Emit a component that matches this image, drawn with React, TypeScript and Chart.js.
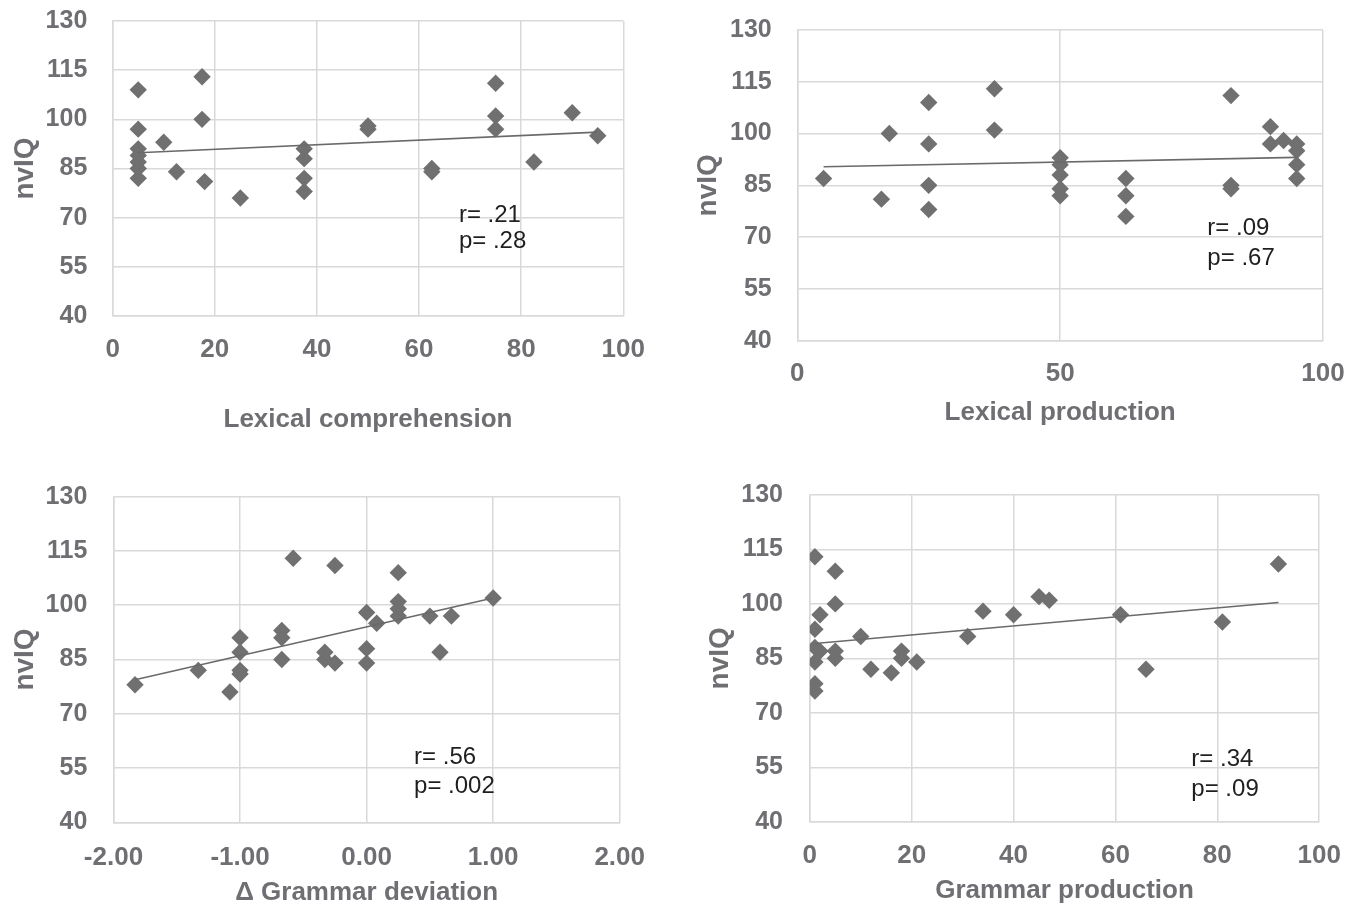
import React, { useEffect, useRef } from 'react';
import { Chart, registerables } from 'chart.js';

Chart.register(...registerables);

// ---------- Data ----------
// nvIQ axis
const nvIQMin = 40;
const nvIQMax = 130;
const nvIQStep = 15;

// Panel 1 – Lexical comprehension
const lexCompX = [5, 5, 5, 5, 5, 5, 5, 10, 12.5, 17.5, 17.5, 18, 25, 37.5, 37.5, 37.5, 37.5, 50, 50, 62.5, 62.5, 75, 75, 75, 82.5, 90, 95];
const lexCompIQ = [109, 97, 91, 89, 87, 85, 82, 93, 84, 113, 100, 81, 76, 91, 88, 82, 78, 98, 97, 85, 84, 111, 101, 97, 87, 102, 95];
const lexCompTrendX = [5, 95];
const lexCompTrendY = [89.8, 96.1];
const lexCompStats = ['r= .21', 'p= .28'];
const lexCompStatsX = [67.8, 67.8];
const lexCompStatsY = [70.8, 62.9];

// Panel 2 – Lexical production
const lexProdX = [5, 16, 17.5, 25, 25, 25, 25, 37.5, 37.5, 50, 50, 50, 50, 50, 62.5, 62.5, 62.5, 82.5, 82.5, 82.5, 90, 90, 92.5, 95, 95, 95, 95];
const lexProdIQ = [87, 81, 100, 109, 97, 85, 78, 113, 101, 93, 91, 88, 84, 82, 87, 82, 76, 111, 85, 84, 102, 97, 98, 97, 95, 91, 87];
const lexProdTrendX = [5, 95];
const lexProdTrendY = [90.4, 93.1];
const lexProdStats = ['r= .09', 'p= .67'];
const lexProdStatsX = [78.0, 78.0];
const lexProdStatsY = [72.4, 63.9];

// Panel 3 – Δ Grammar deviation
const gramDevX = [-1.83, -1.33, -1.08, -1, -1, -1, -1, -0.67, -0.67, -0.67, -0.58, -0.33, -0.33, -0.25, -0.25, 0, 0, 0, 0.08, 0.25, 0.25, 0.25, 0.25, 0.5, 0.58, 0.67, 1];
const gramDevIQ = [78, 82, 76, 91, 87, 82, 81, 93, 91, 85, 113, 87, 85, 84, 111, 98, 88, 84, 95, 109, 101, 99, 97, 97, 87, 97, 102];
const gramDevTrendX = [-1.83, 1];
const gramDevTrendY = [79.4, 102];
const gramDevStats = ['r= .56', 'p= .002'];
const gramDevStatsX = [0.375, 0.375];
const gramDevStatsY = [57.9, 50.0];

// Panel 4 – Grammar production
const gramProdX = [1, 1, 1, 2, 2, 1, 1, 1, 5, 5, 5, 5, 10, 12, 16, 18, 18, 21, 31, 34, 40, 45, 47, 61, 66, 81, 92];
const gramProdIQ = [113, 93, 88, 97, 87, 84, 78, 76, 109, 100, 87, 85, 91, 82, 81, 87, 85, 84, 91, 98, 97, 102, 101, 97, 82, 95, 111];
const gramProdTrendX = [1, 92];
const gramProdTrendY = [89.1, 100.4];
const gramProdStats = ['r= .34', 'p= .09'];
const gramProdStatsX = [74.9, 74.9];
const gramProdStatsY = [57.1, 49.0];

// ---------- Styling ----------
const FONT = "'Liberation Sans', Arial, Helvetica, sans-serif";
const TEXT_GRAY = '#6f6f73';
const GRID = '#d9d9d9';
const MARK = '#707070';
const TREND = '#6a6a6a';
const STAT_TEXT = '#1f1f1f';
const Y_TICK_SIZE = 25;
const X_TICK_SIZE = 26;
const X_TITLE_SIZE = 26;
const Y_TITLE_SIZE = 28;
const STAT_SIZE = 24;

type Pt = { x: number; y: number };
const zip = (xs: number[], ys: number[]): Pt[] => xs.map((x, i) => ({ x, y: ys[i] }));

type Panel = {
  left: number; top: number; w: number; h: number;
  area: { l: number; t: number; r: number; b: number };
  yTickRight: number; yTitleCenter: number;
  xTickCenter: number; xTitleCenter: number;
  xMin: number; xMax: number; xStep: number; decimals: number;
  xTitle: string;
  xs: number[]; ys: number[];
  tx: number[]; ty: number[];
  stats: string[]; sx: number[]; sy: number[];
};

const panels: Panel[] = [
  {
    left: 0, top: 0, w: 675, h: 455,
    area: { l: 112.7, t: 21, r: 623.3, b: 316 },
    yTickRight: 87.3, yTitleCenter: 25, xTickCenter: 349.7, xTitleCenter: 419.5,
    xMin: 0, xMax: 100, xStep: 20, decimals: 0,
    xTitle: 'Lexical comprehension',
    xs: lexCompX, ys: lexCompIQ, tx: lexCompTrendX, ty: lexCompTrendY,
    stats: lexCompStats, sx: lexCompStatsX, sy: lexCompStatsY,
  },
  {
    left: 675, top: 0, w: 676, h: 455,
    area: { l: 122.3, t: 30, r: 648, b: 340.7 },
    yTickRight: 96.7, yTitleCenter: 33.3, xTickCenter: 374.2, xTitleCenter: 412.5,
    xMin: 0, xMax: 100, xStep: 50, decimals: 0,
    xTitle: 'Lexical production',
    xs: lexProdX, ys: lexProdIQ, tx: lexProdTrendX, ty: lexProdTrendY,
    stats: lexProdStats, sx: lexProdStatsX, sy: lexProdStatsY,
  },
  {
    left: 0, top: 455, w: 675, h: 454,
    area: { l: 113.5, t: 41.7, r: 619.7, b: 367.3 },
    yTickRight: 87.3, yTitleCenter: 25, xTickCenter: 403.3, xTitleCenter: 437.5,
    xMin: -2, xMax: 2, xStep: 1, decimals: 2,
    xTitle: 'Δ Grammar deviation',
    xs: gramDevX, ys: gramDevIQ, tx: gramDevTrendX, ty: gramDevTrendY,
    stats: gramDevStats, sx: gramDevStatsX, sy: gramDevStatsY,
  },
  {
    left: 675, top: 455, w: 676, h: 454,
    area: { l: 134.8, t: 40, r: 644.2, b: 366.7 },
    yTickRight: 108, yTitleCenter: 45, xTickCenter: 401.2, xTitleCenter: 436,
    xMin: 0, xMax: 100, xStep: 20, decimals: 0,
    xTitle: 'Grammar production',
    xs: gramProdX, ys: gramProdIQ, tx: gramProdTrendX, ty: gramProdTrendY,
    stats: gramProdStats, sx: gramProdStatsX, sy: gramProdStatsY,
  },
];

function statsPlugin(lines: string[], xs: number[], ys: number[]) {
  return {
    id: 'statsText',
    afterDatasetsDraw(chart: any) {
      const { ctx, scales } = chart;
      ctx.save();
      ctx.font = `${STAT_SIZE}px ${FONT}`;
      ctx.fillStyle = STAT_TEXT;
      ctx.textAlign = 'left';
      ctx.textBaseline = 'middle';
      lines.forEach((t, i) => {
        ctx.fillText(t, scales.x.getPixelForValue(xs[i]), scales.y.getPixelForValue(ys[i]));
      });
      ctx.restore();
    },
  };
}

function ScatterPanel({ p }: { p: Panel }) {
  const ref = useRef<HTMLCanvasElement | null>(null);
  useEffect(() => {
    if (!ref.current) return;
    const { area } = p;
    const xTickLH = X_TICK_SIZE * 1.2;
    const xTitleLH = X_TITLE_SIZE * 1.2;
    const yTitleLH = Y_TITLE_SIZE * 1.2;
    const xAxisBottom = p.xTitleCenter + xTitleLH / 2;
    const xAxisHeight = xAxisBottom - area.b;
    // gap between axis line and labels is produced by an invisible tick mark
    const xTickGap = p.xTickCenter - area.b - xTickLH / 2;
    const yAxisWidth = area.l;
    const yTickGap = area.l - p.yTickRight;
    const yTitlePad = p.yTitleCenter - yTitleLH / 2;

    const chart = new Chart(ref.current, {
      type: 'scatter',
      data: {
        datasets: [
          {
            type: 'line',
            data: zip(p.tx, p.ty),
            borderColor: TREND,
            borderWidth: 1.6,
            pointRadius: 0,
            pointHoverRadius: 0,
            fill: false,
          } as any,
          {
            data: zip(p.xs, p.ys),
            pointStyle: 'rectRot',
            pointRadius: 8.7,
            pointHoverRadius: 8.7,
            backgroundColor: MARK,
            borderColor: MARK,
            borderWidth: 0,
          },
        ],
      },
      options: {
        responsive: false,
        animation: false,
        events: [],
        layout: {
          padding: {
            left: 0,
            top: area.t,
            right: p.w - area.r,
            bottom: p.h - xAxisBottom,
          },
        },
        plugins: { legend: { display: false }, tooltip: { enabled: false } },
        scales: {
          x: {
            type: 'linear',
            min: p.xMin,
            max: p.xMax,
            ticks: {
              stepSize: p.xStep,
              autoSkip: false,
              maxRotation: 0,
              padding: 0,
              color: TEXT_GRAY,
              font: { size: X_TICK_SIZE, family: FONT, weight: 'bold' },
              callback: (v: any) => Number(v).toFixed(p.decimals),
            },
            grid: {
              color: GRID,
              lineWidth: 1.5,
              drawTicks: true,
              tickLength: xTickGap,
              tickColor: 'rgba(0,0,0,0)',
            },
            border: { color: GRID, width: 1.5 },
            title: {
              display: true,
              text: p.xTitle,
              color: TEXT_GRAY,
              padding: 0,
              font: { size: X_TITLE_SIZE, family: FONT, weight: 'bold' },
            },
            afterFit: (s: any) => { s.height = xAxisHeight; },
          },
          y: {
            type: 'linear',
            min: nvIQMin,
            max: nvIQMax,
            ticks: {
              stepSize: nvIQStep,
              autoSkip: false,
              padding: 0,
              color: TEXT_GRAY,
              font: { size: Y_TICK_SIZE, family: FONT, weight: 'bold' },
            },
            grid: {
              color: GRID,
              lineWidth: 1.5,
              drawTicks: true,
              tickLength: yTickGap,
              tickColor: 'rgba(0,0,0,0)',
            },
            border: { color: GRID, width: 1.5 },
            title: {
              display: true,
              text: 'nvIQ',
              color: TEXT_GRAY,
              padding: { top: yTitlePad, bottom: 0 },
              font: { size: Y_TITLE_SIZE, family: FONT, weight: 'bold' },
            },
            afterFit: (s: any) => { s.width = yAxisWidth; },
          },
        },
      } as any,
      plugins: [statsPlugin(p.stats, p.sx, p.sy)],
    });
    return () => chart.destroy();
  }, [p]);

  return (
    <canvas
      ref={ref}
      width={p.w}
      height={p.h}
      style={{ position: 'absolute', left: p.left, top: p.top, width: p.w, height: p.h }}
    />
  );
}

export default function App() {
  return (
    <div
      style={{
        position: 'absolute',
        left: 0,
        top: 0,
        width: 1351,
        height: 909,
        background: '#ffffff',
        overflow: 'hidden',
      }}
    >
      {panels.map((p, i) => (
        <ScatterPanel key={i} p={p} />
      ))}
    </div>
  );
}
